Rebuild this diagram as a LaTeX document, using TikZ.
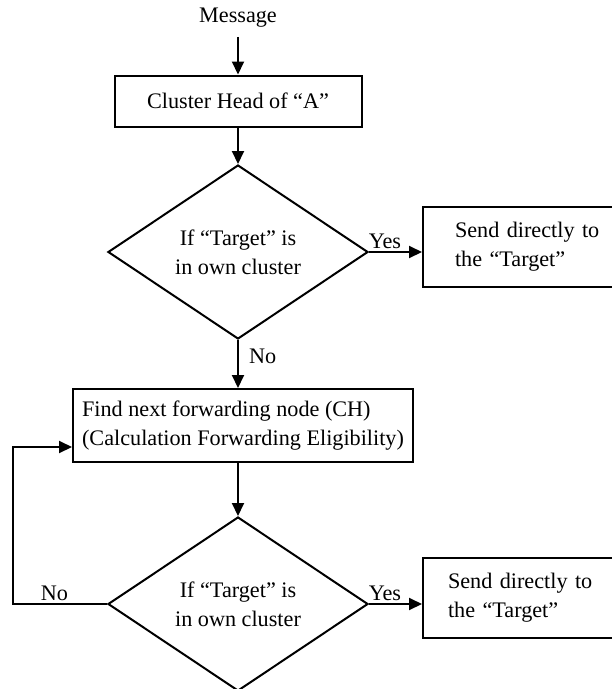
\documentclass[tikz,border=0pt]{standalone}
\usepackage{fontspec}
\setmainfont{Liberation Serif}
\usetikzlibrary{arrows.meta, positioning, shapes.geometric}

\begin{document}
\begin{tikzpicture}[x=1pt, y=-1pt,
  every node/.style={font=\fontsize{22.2}{29}\selectfont},
  box/.style={rectangle, draw, line width=2pt, inner sep=0pt},
  decide/.style={diamond, draw, line width=2pt, minimum width=260pt,
                 minimum height=174pt, inner sep=0pt, align=center},
  lbl/.style={inner sep=2pt},
  arr/.style={-{Triangle[length=13pt, width=12pt]}, line width=2pt}
]
\useasboundingbox (0,0) rectangle (612,689);
\clip (0,0) rectangle (612,689);
\node[inner xsep=0pt, inner ysep=9pt] (msg) at (238,18) {Message};
\node[box, minimum width=247pt, minimum height=51pt] (head) at (238,101) {Cluster Head of “A”};
\node[decide] (cond1) at (238,252) {If “Target” is\\in own cluster};
\node[box, anchor=west, minimum height=80pt, text width=190pt, inner xsep=32pt,
      align=left] (yes1) at (422,247) {Send directly to\\the “Target”};
\node[box, minimum width=340pt, minimum height=73pt, inner xsep=5pt,
      align=left] (fwd) at (243,425.5) {Find next forwarding node (CH)\\(Calculation Forwarding Eligibility)};
\node[decide] (cond2) at (238,604) {If “Target” is\\in own cluster};
\node[box, anchor=west, minimum height=80pt, text width=190pt, inner xsep=25pt,
      align=left] (yes2) at (422,598) {Send directly to\\the “Target”};
\coordinate (back) at (13,604);
\draw[arr] (msg.south) -- (head.north);
\draw[arr] (head.south) -- (cond1.north);
\draw[arr] (cond1.east) -- node[lbl, above, pos=0.3] {Yes} (cond1.east -| yes1.west);
\draw[arr] (cond1.south) -- node[lbl, right=8pt, pos=0.35] {No} (cond1.south |- fwd.north);
\draw[arr] (fwd.south -| cond2.north) -- (cond2.north);
\draw[arr] (cond2.east) -- node[lbl, above, pos=0.3] {Yes} (cond2.east -| yes2.west);
\draw[arr] (cond2.west) -- node[lbl, above, pos=0.56] {No} (back) |- ([yshift=-21.5pt]fwd.west);
\end{tikzpicture}
\end{document}
